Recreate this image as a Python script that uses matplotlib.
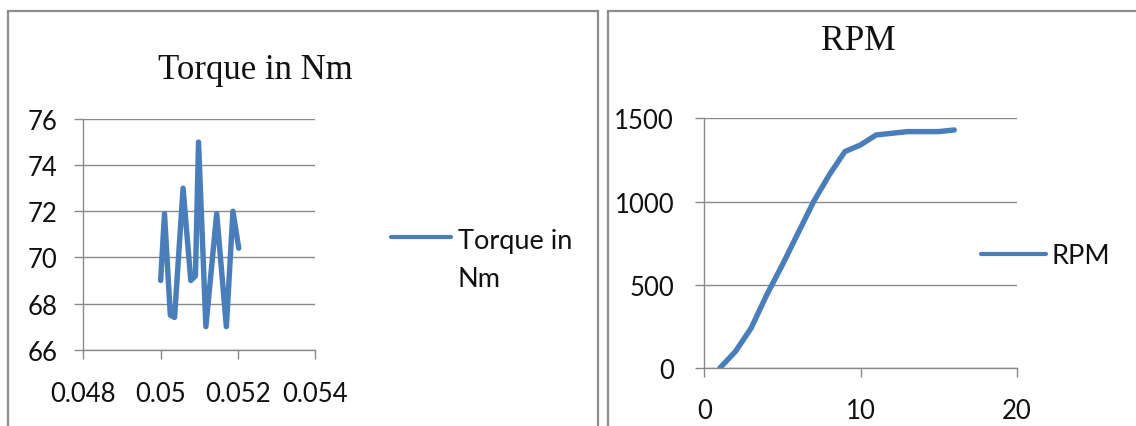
import matplotlib
matplotlib.use("Agg")
import matplotlib.pyplot as plt
from matplotlib.lines import Line2D

# Torque samples over a short time window
torque_time = [0.0500, 0.0501, 0.05025, 0.05036, 0.05058, 0.05078, 0.0509,
               0.05098, 0.05117, 0.05145, 0.0517, 0.05187, 0.05202]
torque_nm = [69.0, 71.9, 67.5, 67.4, 73.0, 69.0, 69.2, 75.0, 67.0, 71.9,
             67.0, 72.0, 70.4]

# Speed ramp-up
rpm_step = list(range(1, 17))
rpm_values = [0, 100, 240, 440, 620, 810, 1000, 1160, 1300, 1340, 1400,
              1410, 1420, 1420, 1420, 1430]

torque_xticks = [0.048, 0.050, 0.052, 0.054]
torque_xticklabels = ["0.048", "0.05", "0.052", "0.054"]
torque_yticks = [66, 68, 70, 72, 74, 76]
rpm_xticks = [0, 10, 20]
rpm_yticks = [0, 500, 1000, 1500]

LINE = "#4a7ebb"
GRID = "#8a8a8a"
TEXT = "#111111"
SANS = ["Lato", "DejaVu Sans"]
SERIF = ["Liberation Serif", "DejaVu Serif"]

W, H = 1136, 427
fig = plt.figure(figsize=(W / 100, H / 100), dpi=100)
fig.patch.set_facecolor("white")


def px_axes(x0, y0, x1, y1):
    return fig.add_axes([x0 / W, 1 - y1 / H, (x1 - x0) / W, (y1 - y0) / H])


def style(ax, ypad, xpad):
    for s in ("top", "right"):
        ax.spines[s].set_visible(False)
    for s in ("left", "bottom"):
        ax.spines[s].set_color(GRID)
        ax.spines[s].set_linewidth(1.0)
    ax.yaxis.grid(True, color=GRID, linewidth=1.0)
    ax.set_axisbelow(True)
    ax.tick_params(axis="both", direction="out", length=6.8, width=1.0,
                   color=GRID, labelsize=18.5, labelcolor=TEXT)
    ax.tick_params(axis="y", pad=ypad)
    ax.tick_params(axis="x", pad=xpad)
    for lab in ax.get_xticklabels() + ax.get_yticklabels():
        lab.set_family(SANS)


line_kw = dict(color=LINE, linewidth=3.9, solid_joinstyle="round",
               solid_capstyle="round")

# Left chart: torque
ax1 = px_axes(83.3, 120.0, 315.3, 350.7)
ax1.plot(torque_time, torque_nm, label="Torque in Nm", **line_kw)
ax1.set_xlim(0.048, 0.054)
ax1.set_ylim(66, 76)
ax1.set_xticks(torque_xticks)
ax1.set_xticklabels(torque_xticklabels)
ax1.set_yticks(torque_yticks)
style(ax1, ypad=12.0, xpad=15.5)
ax1.set_title("Torque in Nm", x=0.74, y=1.178, pad=0, fontsize=25,
              family=SERIF, color=TEXT)

# Legend key for the torque series (label wraps onto two lines)
fig.add_artist(Line2D([391 / W, 451 / W], [1 - 238.3 / H, 1 - 238.3 / H],
                      transform=fig.transFigure, color=LINE, linewidth=3.0,
                      solid_capstyle="round"))
fig.text(457.5 / W, 1 - 286.7 / H, "Torque in\nNm", ha="left", va="baseline",
         fontsize=19.5, family=SANS, color=TEXT, linespacing=1.62)

# Right chart: RPM
ax2 = px_axes(704.3, 119.3, 1016.7, 369.0)
ax2.plot(rpm_step, rpm_values, label="RPM", **line_kw)
ax2.set_xlim(0, 20)
ax2.set_ylim(0, 1500)
ax2.set_xticks(rpm_xticks)
ax2.set_yticks(rpm_yticks)
style(ax2, ypad=15.0, xpad=14.5)
ax2.set_title("RPM", x=0.492, y=1.2775, pad=0, fontsize=25.5,
              family=SERIF, color=TEXT)
leg2 = ax2.legend(loc="center left", bbox_to_anchor=(981 / W, 1 - 257 / H),
                  bbox_transform=fig.transFigure, frameon=False,
                  borderpad=0, borderaxespad=0, handlelength=2.4,
                  handletextpad=0.2, prop={"family": SANS, "size": 19.5})
for t in leg2.get_texts():
    t.set_color(TEXT)
for h in leg2.get_lines():
    h.set_linewidth(3.0)
    h.set_solid_capstyle("round")

# Chart-area frames around each panel
BORDER = "#8c8c8c"


def fig_line(xs, ys):
    fig.add_artist(Line2D([x / W for x in xs], [1 - y / H for y in ys],
                          transform=fig.transFigure, color=BORDER,
                          linewidth=1.6, solid_joinstyle="miter"))


fig_line([8, 8, 598, 598], [428, 11.5, 11.5, 428])
fig_line([607.5, 607.5, 1137], [428, 11.5, 11.5])

fig.savefig("out.png", dpi=100, facecolor="white")
